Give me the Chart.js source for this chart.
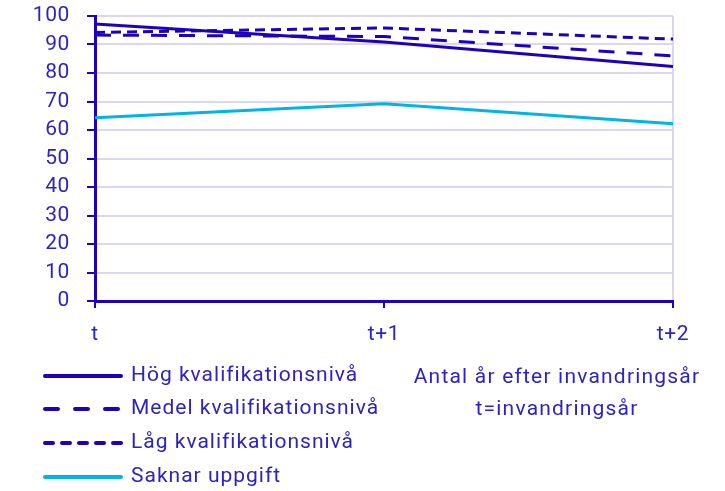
<!DOCTYPE html>
<html><head><meta charset="utf-8">
<script src="https://cdn.jsdelivr.net/npm/chart.js@4.4.1/dist/chart.umd.min.js"></script>
<style>html,body{margin:0;padding:0;background:#fff;}#wrap{width:725px;height:491px;}</style>
</head><body><div id="wrap"><canvas id="c" width="725" height="491"></canvas></div>
<script>
const categories = ['t', 't+1', 't+2'];
const seriesNames = ['Hög kvalifikationsnivå', 'Medel kvalifikationsnivå', 'Låg kvalifikationsnivå', 'Saknar uppgift'];
const hogValues = [97.2, 90.9, 82.3];
const medelValues = [93.3, 92.8, 86.0];
const lagValues = [94.2, 95.8, 91.9];
const saknarValues = [64.3, 69.2, 62.2];
const axisNote = ['Antal år efter invandringsår', 't=invandringsår'];

const DARK = '#1e00be';
const LIGHT = '#00b4e6';
const TEXT = '#2d22c4';
const GRID = '#d8d8f0';
const FONT = 'Roboto';

const spacingPlugin = {
  id: 'spacing',
  beforeDraw(chart) { chart.ctx.letterSpacing = '0.6px'; }
};

const legendPlugin = {
  id: 'customLegend',
  afterDraw(chart) {
    const ctx = chart.ctx;
    ctx.save();
    const rows = [376, 409, 443, 477];
    chart.data.datasets.forEach((ds, i) => {
      const y = rows[i];
      ctx.beginPath();
      ctx.strokeStyle = ds.borderColor;
      ctx.lineWidth = 4;
      ctx.lineCap = 'round';
      ctx.setLineDash(ds.legendDash || []);
      ctx.moveTo(45, y);
      ctx.lineTo(121, y);
      ctx.stroke();
      ctx.setLineDash([]);
      ctx.fillStyle = TEXT;
      ctx.font = '21px ' + FONT;
      ctx.letterSpacing = '1px';
      ctx.textAlign = 'left';
      ctx.textBaseline = 'middle';
      ctx.fillText(ds.label, 131, y);
    });
    ctx.textAlign = 'center';
    ctx.letterSpacing = '1.2px';
    ctx.fillText(axisNote[0], 557, 378);
    ctx.fillText(axisNote[1], 557, 410);
    ctx.restore();
  }
};

new Chart(document.getElementById('c'), {
  type: 'line',
  data: {
    labels: categories,
    datasets: [
      { label: seriesNames[0], data: hogValues, borderColor: DARK, borderWidth: 3, borderDash: [], legendDash: [] },
      { label: seriesNames[1], data: medelValues, borderColor: DARK, borderWidth: 3, borderDash: [16, 12], legendDash: [13, 17] },
      { label: seriesNames[2], data: lagValues, borderColor: DARK, borderWidth: 3, borderDash: [10, 6], legendDash: [8, 9] },
      { label: seriesNames[3], data: saknarValues, borderColor: LIGHT, borderWidth: 3, borderDash: [], legendDash: [] }
    ]
  },
  options: {
    responsive: false,
    animation: false,
    devicePixelRatio: 1,
    elements: { point: { radius: 0, hoverRadius: 0 }, line: { tension: 0, borderCapStyle: 'butt' } },
    layout: { padding: { left: 0, right: 52, top: 16, bottom: 130 } },
    plugins: { legend: { display: false }, tooltip: { enabled: false } },
    scales: {
      x: {
        offset: false,
        afterFit(scale) { scale.height = 60; scale.paddingRight = 0; scale.paddingLeft = 0; },
        border: { color: DARK, width: 3 },
        grid: {
          color: (c) => c.index === 2 ? GRID : 'rgba(0,0,0,0)',
          lineWidth: 2,
          tickColor: DARK,
          tickWidth: 2,
          tickLength: 7,
          drawOnChartArea: true
        },
        ticks: { color: TEXT, font: { family: FONT, size: 21 }, padding: 14, maxRotation: 0 }
      },
      y: {
        min: 0, max: 100,
        afterFit(scale) { scale.width = 95; scale.paddingTop = 0; scale.paddingBottom = 0; },
        border: { color: DARK, width: 3 },
        grid: { color: GRID, lineWidth: 2, tickColor: DARK, tickWidth: 2, tickLength: 8 },
        ticks: { color: TEXT, font: { family: FONT, size: 21 }, padding: 17, stepSize: 10, autoSkip: false }
      }
    }
  },
  plugins: [spacingPlugin, legendPlugin]
});
</script>
</body></html>
